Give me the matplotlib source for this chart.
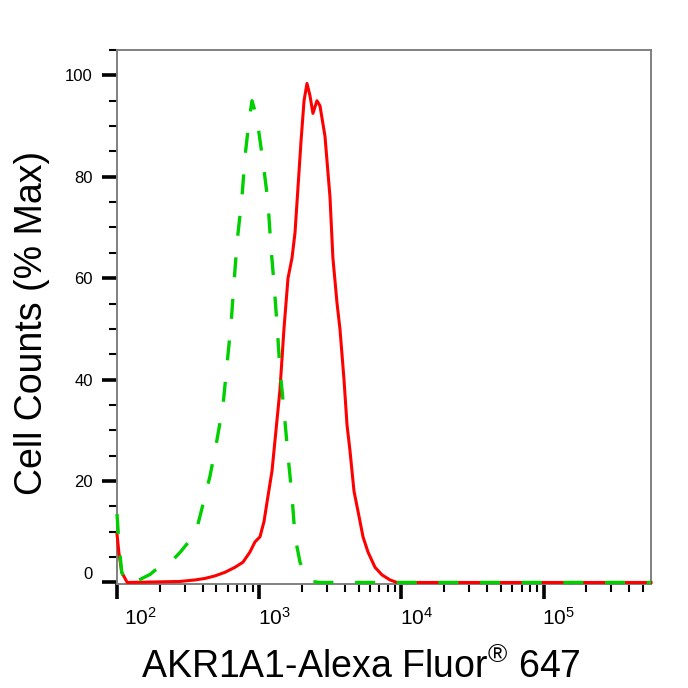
import matplotlib
matplotlib.use('Agg')
import matplotlib.pyplot as plt
import matplotlib.transforms as mtransforms
from matplotlib.ticker import LogLocator, MultipleLocator, NullFormatter

plt.rcParams['font.family'] = ['Liberation Sans', 'DejaVu Sans']
plt.rcParams['mathtext.fontset'] = 'custom'
plt.rcParams['mathtext.rm'] = 'Liberation Sans'
plt.rcParams['mathtext.it'] = 'Liberation Sans'
plt.rcParams['mathtext.bf'] = 'Liberation Sans'
plt.rcParams['lines.scale_dashes'] = False

# isotype control (green dashed)
iso_x = [100, 103, 108, 116, 134, 150, 171, 185, 218, 248, 279, 319, 371, 416, 451, 497,
         557, 594, 634, 665, 698, 757, 795, 848, 890, 934, 981, 1064, 1153, 1211, 1271,
         1334, 1400, 1494, 1595, 1702, 1787, 1937, 2100, 2352, 2677, 5000, 20000, 100000, 570000]
iso_y = [13.5, 8, 2, 0, 0, 0.8, 1.6, 2.4, 3.5, 4.5, 6, 8, 11.5, 17, 21, 27,
         35, 43, 51, 59, 67, 76, 84, 91, 95, 93, 90, 83, 75, 66, 59,
         51, 42, 34, 25, 17, 9, 4, 1.5, 0.2, 0, 0, 0, 0, 0]

# AKR1A1 stained sample (red solid)
akr_x = [100, 103, 108, 118, 277, 354, 416, 489, 574, 676, 769, 861, 934, 1013, 1081,
         1153, 1231, 1313, 1400, 1494, 1595, 1702, 1787, 1876, 1969, 2068, 2169, 2276,
         2389, 2549, 2677, 2903, 3148, 3300, 3530, 3700, 3950, 4150, 4351, 4645, 4959,
         5375, 5826, 6524, 7304, 8322, 9316, 30000, 100000, 570000]
akr_y = [9.6, 6, 2, 0, 0.2, 0.5, 0.8, 1.3, 2.0, 3.0, 4.0, 6, 8, 9, 12,
         17, 22, 30, 38, 50, 60, 64, 69, 78, 87, 95, 98.4, 96,
         92.5, 95, 94, 88, 76, 64, 55, 50, 40, 31, 26, 18, 14,
         9, 6, 3, 1.5, 0.5, 0, 0, 0, 0]

x_major = [1e2, 1e3, 1e4, 1e5]
x_labels = ['$10^{2}$', '$10^{3}$', '$10^{4}$', '$10^{5}$']
y_major = [0, 20, 40, 60, 80, 100]
y_labels = ['0', '20', '40', '60', '80', '100']

fig = plt.figure(figsize=(6.88, 6.88), dpi=100)
ax = fig.add_axes([117 / 688, 1 - 584 / 688, (651 - 117) / 688, (584 - 50) / 688])

ax.plot(akr_x, akr_y, color='#ff0000', lw=2.2, zorder=3, clip_on=False)
ax.plot(iso_x, iso_y, color='#00d000', lw=2.4, ls=(0, (14.4, 15.6)), zorder=4, clip_on=False)

ax.set_xscale('log')
ax.set_xlim(100, 5.7e5)
ax.set_ylim(-0.3, 105)

ax.set_xticks(x_major)
ax.set_xticklabels(x_labels, fontsize=15)
ax.xaxis.set_minor_locator(LogLocator(base=10, subs=range(2, 10)))
ax.xaxis.set_minor_formatter(NullFormatter())
ax.set_yticks(y_major)
ax.set_yticklabels(y_labels, fontsize=12)
ax.yaxis.set_minor_locator(MultipleLocator(5))

ax.tick_params(axis='both', which='major', direction='out', length=10.5, width=2.6,
               color='black')
ax.tick_params(axis='both', which='minor', direction='out', length=5.5, width=1.5,
               color='black')
ax.tick_params(axis='y', which='major', pad=7)
ax.tick_params(axis='x', which='major', pad=6)

for sp in ax.spines.values():
    sp.set_color('#808080')
    sp.set_linewidth(1.4)

# exponent labels sit to the right of their ticks
for i, lab in enumerate(ax.get_xticklabels()):
    dx = 0.23 if i == 0 else 0.15
    lab.set_transform(lab.get_transform() + mtransforms.ScaledTranslation(dx, 0, fig.dpi_scale_trans))
ax.get_yticklabels()[0].set_verticalalignment('bottom')

fig.text(361 / 688, 1 - 678 / 688, 'AKR1A1-Alexa Fluor$^{®}$ 647', fontsize=27,
         ha='center', va='baseline')
fig.text(42 / 688, 1 - 323 / 688, 'Cell Counts (% Max)', fontsize=27, rotation=90,
         rotation_mode='anchor', ha='center', va='baseline')

fig.savefig('out.png', dpi=100)
